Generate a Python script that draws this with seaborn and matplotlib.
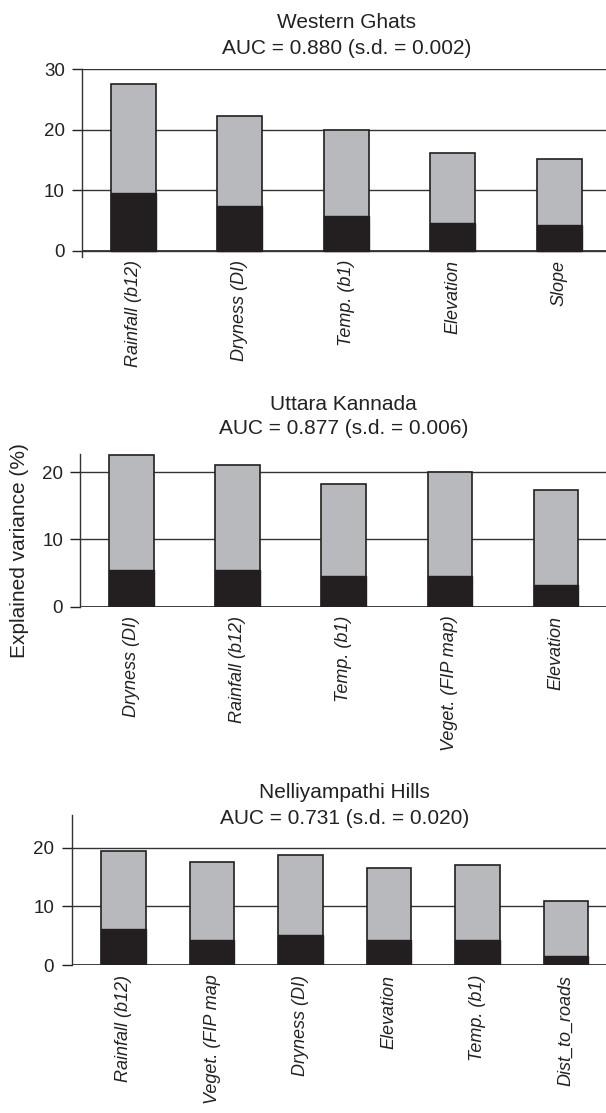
import matplotlib
matplotlib.use("Agg")
import matplotlib.pyplot as plt
import matplotlib.transforms as mtrans
import pandas as pd
import seaborn as sns

sns.set_theme(style="ticks")
plt.rcParams['font.family'] = ['Liberation Sans', 'DejaVu Sans']

GREY = '#b8b9bc'
BLACK = '#231f20'
LINE = '#333333'

# Western Ghats
wg_vars = ['Rainfall (b12)', 'Dryness (DI)', 'Temp. (b1)', 'Elevation', 'Slope']
wg_total = [27.6, 22.3, 20.0, 16.2, 15.2]
wg_black = [9.5, 7.4, 5.7, 4.6, 4.2]

# Uttara Kannada
uk_vars = ['Dryness (DI)', 'Rainfall (b12)', 'Temp. (b1)', 'Veget. (FIP map)', 'Elevation']
uk_total = [22.6, 21.0, 18.2, 20.0, 17.3]
uk_black = [5.5, 5.5, 4.5, 4.5, 3.3]

# Nelliyampathi Hills
nh_vars = ['Rainfall (b12)', 'Veget. (FIP map', 'Dryness (DI)', 'Elevation', 'Temp. (b1)', 'Dist_to_roads']
nh_total = [19.5, 17.6, 18.7, 16.6, 17.0, 11.0]
nh_black = [6.1, 4.3, 5.2, 4.3, 4.2, 1.5]

W, H = 606, 1113
fig = plt.figure(figsize=(W / 100, H / 100), dpi=100)


def panel(box, names, total, black, width, xlim, ylim, yticks, title, auc,
          title_y, label_pad):
    left, top, bottom = box
    ax = fig.add_axes([left / W, 1 - bottom / H, 1 - left / W, (bottom - top) / H])
    df = pd.DataFrame({'var': names, 'total': total, 'black': black})
    sns.barplot(data=df, x='var', y='total', order=names, color=GREY,
                saturation=1, width=width, edgecolor=BLACK, linewidth=1.2,
                ax=ax, zorder=2)
    sns.barplot(data=df, x='var', y='black', order=names, color=BLACK,
                saturation=1, width=width, edgecolor=BLACK, linewidth=1.0,
                ax=ax, zorder=3)
    ax.set_xlim(*xlim)
    ax.set_ylim(*ylim)
    ax.set_yticks(yticks)
    ax.set_xlabel('')
    ax.set_ylabel('')
    ax.set_axisbelow(True)
    ax.yaxis.grid(True, color=LINE, lw=1.0)
    for s in ['top', 'right', 'bottom']:
        ax.spines[s].set_visible(False)
    ax.axhline(0, color=LINE, lw=1.3, zorder=1.5)
    ax.spines['left'].set_color(LINE)
    ax.spines['left'].set_linewidth(1.0)
    ax.tick_params(axis='y', length=7, width=1.0, pad=5.5, labelsize=13.5,
                   colors='#222222')
    ax.tick_params(axis='x', length=0, pad=label_pad)
    ax.set_xticks(range(len(names)))
    ax.set_xticklabels(names, rotation=90, fontstyle='italic', fontsize=13,
                       ha='center', va='top', color='#222222')
    tr = mtrans.blended_transform_factory(ax.transData, fig.transFigure)
    xc = (len(names) - 1) / 2
    ax.text(xc, 1 - title_y[0] / H, title, transform=tr, ha='center',
            va='center', fontsize=15, color='#222222')
    ax.text(xc, 1 - title_y[1] / H, auc, transform=tr, ha='center',
            va='center', fontsize=15, color='#222222')
    return ax


panel((82.3, 69, 257), wg_vars, wg_total, wg_black, 0.42, (-0.48, 4.44),
      (-1, 30), [0, 10, 20, 30], 'Western Ghats',
      'AUC = 0.880 (s.d. = 0.002)', (23, 49), 2)
panel((80.4, 454, 606.7), uk_vars, uk_total, uk_black, 0.42, (-0.48, 4.47),
      (0, 22.7), [0, 10, 20], 'Uttara Kannada',
      'AUC = 0.877 (s.d. = 0.006)', (405, 429), 6.5)
panel((71.5, 815, 965), nh_vars, nh_total, nh_black, 0.5, (-0.587, 5.45),
      (0, 25.6), [0, 10, 20], 'Nelliyampathi Hills',
      'AUC = 0.731 (s.d. = 0.020)', (793, 819), 7)

fig.text(20 / W, 1 - 551 / H, 'Explained variance (%)', rotation=90,
         ha='center', va='center', fontsize=15, color='#222222')

fig.savefig('out.png', dpi=100)
